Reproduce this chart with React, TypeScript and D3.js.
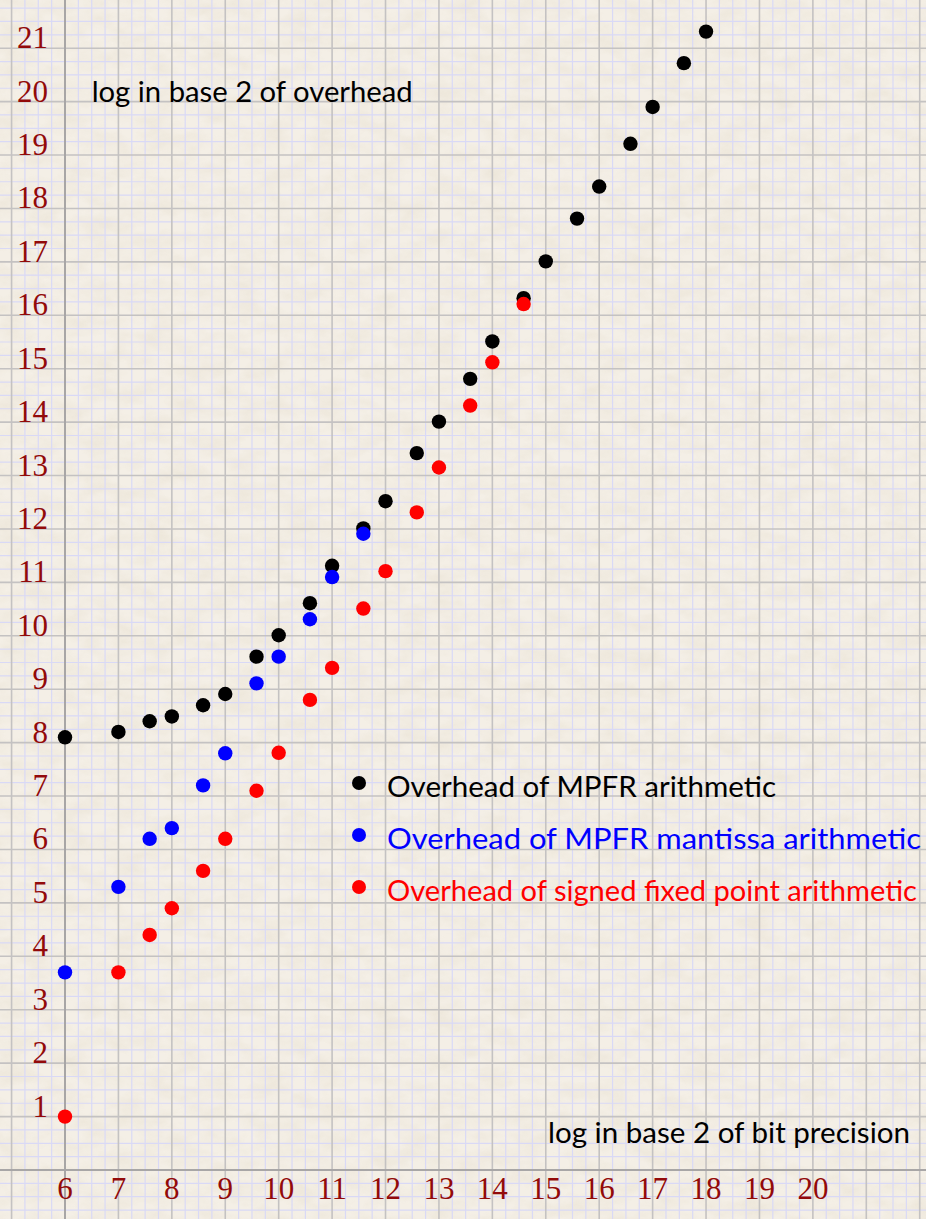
import React from "react";
import * as d3 from "d3";

// log2 of the bit precision (64, 128, 192, 256, 384, 512, ...)
const bitPrecisionLog2 = [
  6, 7, 7.585, 8, 8.585, 9, 9.585, 10, 10.585, 11, 11.585, 12,
  12.585, 13, 13.585, 14, 14.585, 15, 15.585, 16, 16.585, 17, 17.585, 18,
];

// log2 of the overhead for each arithmetic
const mpfrOverhead = [
  8.1, 8.2, 8.4, 8.49, 8.7, 8.91, 9.61, 10.01, 10.61, 11.31, 12.01, 12.52,
  13.42, 14.01, 14.81, 15.51, 16.32, 17.01, 17.81, 18.41, 19.21, 19.9, 20.72, 21.31,
];
const mantissaOverhead = [
  3.7, 5.3, 6.2, 6.4, 7.2, 7.8, 9.11, 9.61, 10.31, 11.1, 11.91,
];
const fixedPointOverhead = [
  1.0, 3.7, 4.4, 4.9, 5.6, 6.2, 7.1, 7.81, 8.8, 9.4, 10.51, 11.21,
  12.31, 13.15, 14.31, 15.12, 16.21,
];

const xTicks = [6, 7, 8, 9, 10, 11, 12, 13, 14, 15, 16, 17, 18, 19, 20];
const yTicks = [1, 2, 3, 4, 5, 6, 7, 8, 9, 10, 11, 12, 13, 14, 15, 16, 17, 18, 19, 20, 21];

const seriesNames = [
  "Overhead of MPFR arithmetic",
  "Overhead of MPFR mantissa arithmetic",
  "Overhead of signed fixed point arithmetic",
];
const seriesColors = ["#000000", "#0000ff", "#ff0000"];

const W = 926;
const H = 1219;
const UNIT = 53.42;
const X0 = 65;
const Y0 = 1170;

const x = d3.scaleLinear().domain([6, 20]).range([X0, X0 + 14 * UNIT]);
const y = d3.scaleLinear().domain([0, 21]).range([Y0, Y0 - 21 * UNIT]);

const minorX = d3.range(4.75, 23, 0.25).filter((v) => x(v) >= 0 && x(v) <= W);
const minorY = d3.range(-1, 23, 0.25).filter((v) => y(v) >= 0 && y(v) <= H);
const isMajor = (v: number) => Math.abs(v - Math.round(v)) < 1e-6;

const serifFont = "'Liberation Serif', 'DejaVu Serif', serif";
const sansFont = "Lato, 'Open Sans', 'Liberation Sans', sans-serif";
const tickColor = "#920a0a";

export default function App() {
  const series = [
    { values: mpfrOverhead, color: seriesColors[0] },
    { values: mantissaOverhead, color: seriesColors[1] },
    { values: fixedPointOverhead, color: seriesColors[2] },
  ];
  const legendRows = [783, 835, 887];
  const legendWidths = [389, 534, 530];

  return (
    <svg
      width={W}
      height={H}
      viewBox={`0 0 ${W} ${H}`}
      style={{ position: "absolute", left: 0, top: 0, display: "block" }}
    >
      <defs>
        <filter id="paper" x="0" y="0" width="100%" height="100%">
          <feTurbulence type="fractalNoise" baseFrequency="0.035 0.06" numOctaves={4} seed={7} result="n" />
          <feColorMatrix
            in="n"
            type="matrix"
            values="0 0 0 0 0.78  0 0 0 0 0.72  0 0 0 0 0.60  1.2 0 0 0 -0.42"
          />
        </filter>
      </defs>

      {/* paper background */}
      <rect x={0} y={0} width={W} height={H} fill="#f4efe6" />
      <rect x={0} y={0} width={W} height={H} filter="url(#paper)" opacity={0.65} />

      {/* minor grid */}
      <g stroke="#d9d9f6" strokeWidth={1.2}>
        {minorX.filter((v) => !isMajor(v)).map((v) => (
          <line key={`mx${v}`} x1={x(v)} x2={x(v)} y1={0} y2={H} />
        ))}
        {minorY.filter((v) => !isMajor(v)).map((v) => (
          <line key={`my${v}`} x1={0} x2={W} y1={y(v)} y2={y(v)} />
        ))}
      </g>

      {/* major grid */}
      <g stroke="#c4c2c2" strokeWidth={1.6}>
        {minorX.filter((v) => isMajor(v) && v !== 6).map((v) => (
          <line key={`Mx${v}`} x1={x(v)} x2={x(v)} y1={0} y2={H} />
        ))}
        {minorY.filter((v) => isMajor(v) && v !== 0).map((v) => (
          <line key={`My${v}`} x1={0} x2={W} y1={y(v)} y2={y(v)} />
        ))}
      </g>

      {/* axes */}
      <g stroke="#a8a6a6" strokeWidth={2}>
        <line x1={x(6)} x2={x(6)} y1={0} y2={H} />
        <line x1={0} x2={W} y1={y(0)} y2={y(0)} />
      </g>

      {/* tick labels */}
      <g fontFamily={serifFont} fontSize={31} fill={tickColor}>
        {xTicks.map((t) => (
          <text key={`xt${t}`} x={x(t)} y={y(0) + 29} textAnchor="middle">
            {t}
          </text>
        ))}
        {yTicks.map((t) => (
          <text key={`yt${t}`} x={48} y={y(t)} textAnchor="end">
            {t}
          </text>
        ))}
      </g>

      {/* axis titles */}
      <g fontFamily={sansFont} fontSize={29} fill="#000">
        <text x={x(6.5)} y={y(20)} textLength={321} lengthAdjust="spacingAndGlyphs">
          log in base 2 of overhead
        </text>
        <text x={548} y={y(0.5)} textLength={362} lengthAdjust="spacingAndGlyphs">
          log in base 2 of bit precision
        </text>
      </g>

      {/* data points */}
      {series.map((s, si) => (
        <g key={`s${si}`} fill={s.color}>
          {s.values.map((v, i) => (
            <circle key={i} cx={x(bitPrecisionLog2[i])} cy={y(v)} r={7.2} />
          ))}
        </g>
      ))}

      {/* legend */}
      <g fontFamily={sansFont} fontSize={29}>
        {seriesNames.map((name, i) => (
          <g key={name}>
            <circle cx={359} cy={legendRows[i]} r={7} fill={seriesColors[i]} />
            <text
              x={387}
              y={legendRows[i] + 14}
              fill={seriesColors[i]}
              textLength={legendWidths[i]}
              lengthAdjust="spacingAndGlyphs"
            >
              {name}
            </text>
          </g>
        ))}
      </g>
    </svg>
  );
}
